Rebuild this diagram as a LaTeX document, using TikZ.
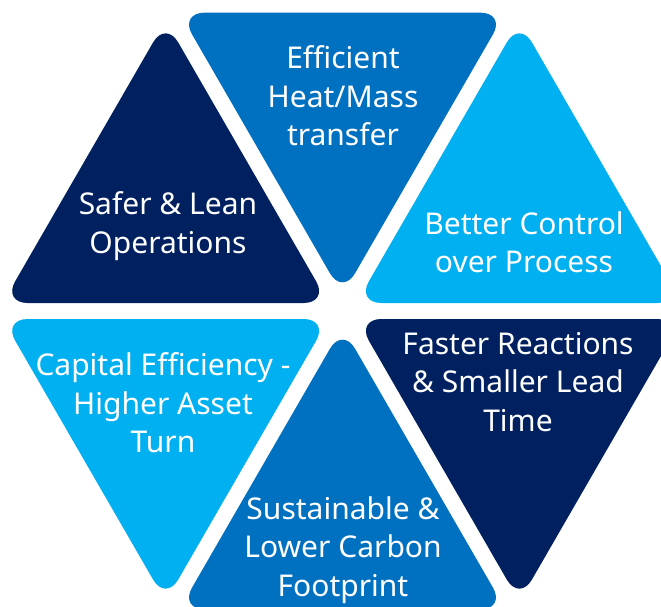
\documentclass[tikz,border=0pt]{standalone}
\usepackage{fontspec}
\setmainfont{Noto Sans}
\definecolor{navy}{HTML}{002060}
\definecolor{midblue}{HTML}{0070C0}
\definecolor{lightblue}{HTML}{00B0F0}
\begin{document}
\begin{tikzpicture}[x=1pt,y=-1pt,
  tri/.style={rounded corners=25pt},
  lbl/.style={text=white,align=center,font=\fontsize{30}{38.5}\selectfont,inner sep=0pt}]
\useasboundingbox (0,0) rectangle (661,606);
\clip (0,0) rectangle (661,606);
% triangles
\fill[tri,midblue]   (342.5,295) -- (179.5,12.67) -- (505.5,12.67) -- cycle;
\fill[tri,navy]      (328.64,303) -- (2.64,303) -- (165.64,20.67) -- cycle;
\fill[tri,lightblue] (356.36,303) -- (682.36,303) -- (519.36,20.67) -- cycle;
\fill[tri,lightblue] (328.64,319) -- (2.64,319) -- (165.64,601.33) -- cycle;
\fill[tri,navy]      (356.36,319) -- (682.36,319) -- (519.36,601.33) -- cycle;
\fill[tri,midblue]   (342.5,327) -- (179.5,609.33) -- (505.5,609.33) -- cycle;
% labels
\node[lbl] (t1) at (343,96) {Efficient\\Heat/Mass\\transfer};
\node[lbl] (t2) at (168,226) {Safer \& Lean\\Operations};
\node[lbl] (t3) at (524,242) {Better Control\\over Process};
\node[lbl] (t4) at (163,403) {Capital Efficiency -\\Higher Asset\\Turn};
\node[lbl] (t5) at (518,382) {Faster Reactions\\\& Smaller Lead\\Time};
\node[lbl] (t6) at (343,550) {Sustainable \&\\Lower Carbon\\Footprint};
\end{tikzpicture}
\end{document}
